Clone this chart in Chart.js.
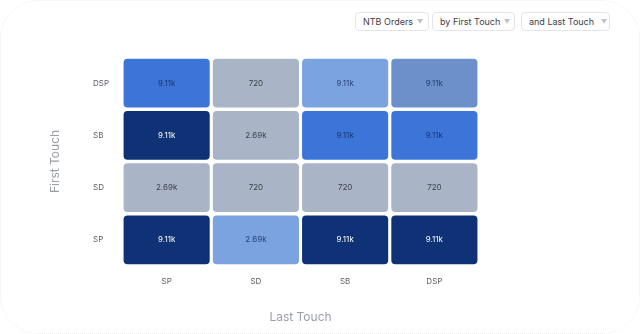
<!DOCTYPE html>
<html>
<head>
<meta charset="utf-8">
<script src="https://cdn.jsdelivr.net/npm/chart.js@4"></script>
<style>
  html, body { margin: 0; padding: 0; background: #fff; }
  body { width: 640px; height: 334px; position: relative; overflow: hidden; font-family: Inter, "Noto Sans", sans-serif; }
  .card { position: absolute; left: 0; top: 0; width: 638px; height: 332px; border: 1px dotted #ececee; border-radius: 38px; }
  .wrap { position: absolute; left: 0; top: 0; width: 640px; height: 334px; }
  .pick { position: absolute; top: 12px; height: 17px; border: 1px solid #e3e5e9; border-radius: 4px;
          font-size: 9px; color: #3d4048; line-height: 17px; white-space: nowrap; }
  .pick span { position: absolute; top: 0; }
  .pick i { position: absolute; top: 0; font-style: normal; font-size: 6px; color: #bcc0c7; }
</style>
</head>
<body>
<div class="card"></div>
<div class="pick" style="left:355px;width:72px"><span style="left:7px">NTB Orders</span><i style="left:61px">▼</i></div>
<div class="pick" style="left:432px;width:81px"><span style="left:7px">by First Touch</span><i style="left:71px">▼</i></div>
<div class="pick" style="left:521px;width:87px"><span style="left:7px">and Last Touch</span><i style="left:79px">▼</i></div>
<div class="wrap"><canvas id="heatmap"></canvas></div>
<script>
// Touch channels, bottom row first on the y axis
const lastTouch = ['SP', 'SD', 'SB', 'DSP'];
const firstTouch = ['SP', 'SD', 'SB', 'DSP'];

// NTB orders per first touch row (columns follow lastTouch)
const ordersSP = [9110, 2690, 9110, 9110];
const ordersSD = [2690, 720, 720, 720];
const ordersSB = [9110, 2690, 9110, 9110];
const ordersDSP = [9110, 720, 9110, 9110];
const orders = [ordersSP, ordersSD, ordersSB, ordersDSP];

// shade level of each cell, index into the palette
const shadeSP = [4, 1, 4, 4];
const shadeSD = [0, 0, 0, 0];
const shadeSB = [4, 0, 3, 3];
const shadeDSP = [3, 0, 1, 2];
const shades = [shadeSP, shadeSD, shadeSB, shadeDSP];

const palette = ['#aab4c7', '#7aa3e0', '#6b90ca', '#3c74d8', '#0f3175'];
const textColors = ['#3b3f48', '#2a437a', '#26406f', '#1d3672', '#ffffff'];

function fmt(v) {
  if (v >= 1000) return (v / 1000).toFixed(2).replace(/\.?0+$/, '') + 'k';
  return String(v);
}

const datasets = firstTouch.map((row, r) => ({
  label: row,
  data: lastTouch.map((col, c) => ({ x: col, y: [r + 0.035, r + 0.965], v: orders[r][c], s: shades[r][c] })),
  backgroundColor: shades[r].map(s => palette[s]),
  borderRadius: 4,
  borderSkipped: false,
  barPercentage: 0.965,
  categoryPercentage: 1
}));

// value text in the middle of each cell
const cellLabels = {
  id: 'cellLabels',
  afterDatasetsDraw(chart) {
    const ctx = chart.ctx;
    ctx.save();
    ctx.font = '8px Inter';
    ctx.textAlign = 'center';
    ctx.textBaseline = 'middle';
    chart.data.datasets.forEach((ds, i) => {
      chart.getDatasetMeta(i).data.forEach((el, j) => {
        const p = el.getCenterPoint();
        const raw = ds.data[j];
        ctx.fillStyle = textColors[raw.s];
        ctx.fillText(fmt(raw.v), p.x, p.y);
      });
    });
    ctx.restore();
  }
};

// rotated y axis title, kept apart so the row labels can sit left aligned
const yTitle = {
  id: 'yTitle',
  afterDraw(chart) {
    const { ctx, chartArea } = chart;
    ctx.save();
    ctx.translate(55, (chartArea.top + chartArea.bottom) / 2);
    ctx.rotate(-Math.PI / 2);
    ctx.font = '12px Inter';
    ctx.fillStyle = '#9a9ea6';
    ctx.textAlign = 'center';
    ctx.textBaseline = 'middle';
    ctx.fillText('First Touch', 0, 0);
    ctx.restore();
  }
};

new Chart(document.getElementById('heatmap'), {
  type: 'bar',
  data: { labels: lastTouch, datasets },
  options: {
    responsive: true,
    maintainAspectRatio: false,
    animation: false,
    layout: { padding: { top: 57, right: 161, left: 93, bottom: 9 } },
    plugins: { legend: { display: false }, tooltip: { enabled: false } },
    scales: {
      x: {
        stacked: true,
        grid: { display: false, drawTicks: false },
        border: { display: false },
        ticks: { padding: 11, color: '#5a5d64', font: { family: 'Inter', size: 8 } },
        title: { display: true, text: 'Last Touch', color: '#9a9ea6', font: { family: 'Inter', size: 12 }, padding: { top: 13, bottom: 0 } }
      },
      y: {
        stacked: false,
        min: 0,
        max: firstTouch.length,
        afterBuildTicks(scale) {
          scale.ticks = firstTouch.map((_, i) => ({ value: i + 0.5 }));
        },
        grid: { display: false, drawTicks: false },
        border: { display: false },
        ticks: {
          crossAlign: 'far',
          padding: 6.5,
          color: '#5a5d64',
          font: { family: 'Inter', size: 8 },
          callback: v => firstTouch[Math.floor(v)]
        }
      }
    }
  },
  plugins: [cellLabels, yTitle]
});
</script>
</body>
</html>
